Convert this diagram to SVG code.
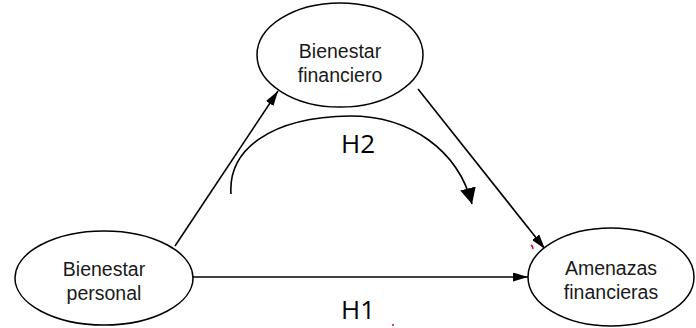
<svg xmlns="http://www.w3.org/2000/svg" width="696" height="328" viewBox="0 0 696 328">
<style>
.node ellipse{fill:#fff;stroke:#000;stroke-width:1.5}
.node text{font-family:"Liberation Sans",Arial,sans-serif;font-size:19.5px;fill:#1a1a1a;text-anchor:middle}
.edge{stroke:#000;stroke-width:1.6;fill:none}
.lbl{font-family:"Open Sans",sans-serif;font-size:26px;fill:#000}
</style>
<defs>
<marker id="ah" markerWidth="15" markerHeight="9" refX="15" refY="4.5" orient="auto" markerUnits="userSpaceOnUse" viewBox="0 0 15 9">
<path d="M0,0 L15,4.5 L0,9 Z" fill="#000"/>
</marker>
<marker id="ah2" markerWidth="16" markerHeight="16" refX="16" refY="8" orient="auto" markerUnits="userSpaceOnUse" viewBox="0 0 16 16">
<path d="M0,0 L16,8 L0,16 Z" fill="#000"/>
</marker>
</defs>
<g id="connectors">
<line class="edge" x1="175" y1="246" x2="278" y2="91" marker-end="url(#ah)"/>
<line class="edge" x1="418" y1="89" x2="545" y2="249" marker-end="url(#ah)"/>
<line class="edge" x1="193" y1="277" x2="528" y2="277" marker-end="url(#ah)"/>
<path class="edge" d="M231,194 C228,150 270,117 350,116 C410,116 458,150 472,204" marker-end="url(#ah2)"/>
</g>
<g id="n_financiero" class="node">
<ellipse cx="340" cy="55" rx="83" ry="52"/>
<text x="340" y="58">Bienestar</text>
<text x="340" y="82">financiero</text>
</g>
<g id="n_personal" class="node">
<ellipse cx="104" cy="278" rx="89" ry="47"/>
<text x="104" y="276">Bienestar</text>
<text x="104" y="300">personal</text>
</g>
<g id="n_amenazas" class="node">
<ellipse cx="611" cy="277" rx="83" ry="49"/>
<text x="611" y="275">Amenazas</text>
<text x="611" y="299">financieras</text>
</g>
<text class="lbl" x="341" y="153">H2</text>
<text class="lbl" x="341" y="319">H1</text>
<path d="M531,245 q2,1 2,4" stroke="#e0001a" stroke-width="1.5" fill="none"/>
<circle cx="393" cy="325" r="1" fill="#e0001a"/>
</svg>
